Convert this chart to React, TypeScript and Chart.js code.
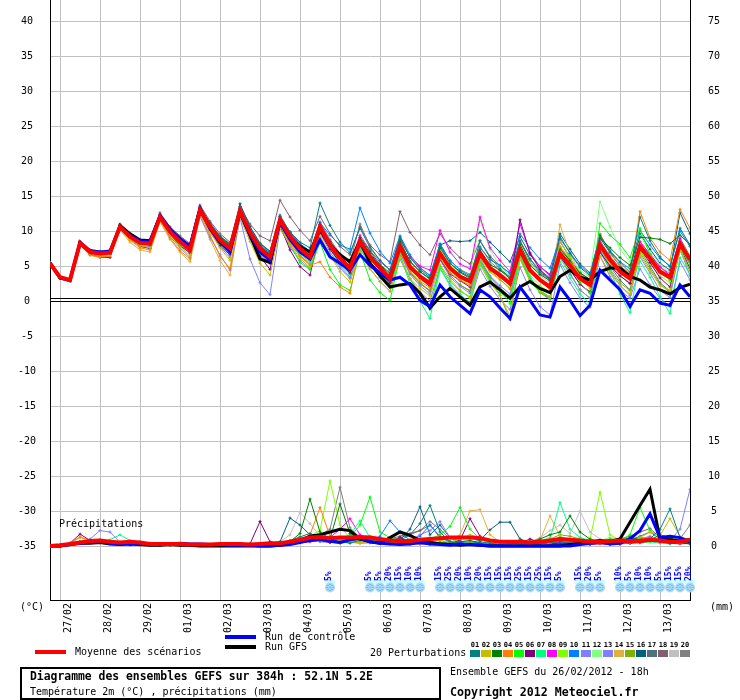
import React, { useEffect, useRef } from 'react';
import { Chart, registerables } from 'chart.js';

Chart.register(...registerables);

const MONO = "'DejaVu Sans Mono', monospace";

// x axis: one point every 6h from 26/02 18h (index 0) to +384h (index 64)
const dayTicks = [1, 5, 9, 13, 17, 21, 25, 29, 33, 37, 41, 45, 49, 53, 57, 61];
const dayLabels = ['27/02', '28/02', '29/02', '01/03', '02/03', '03/03', '04/03', '05/03',
    '06/03', '07/03', '08/03', '09/03', '10/03', '11/03', '12/03', '13/03'];
const tempTicks = [-35, -30, -25, -20, -15, -10, -5, 0, 5, 10, 15, 20, 25, 30, 35, 40];
const precipTicks = [0, 5, 10, 15, 20, 25, 30, 35, 40, 45, 50, 55, 60, 65, 70, 75];

// temperature 2m (°C)
const meanTemp = [5.4, 3.4, 3.0, 8.3, 7.0, 6.8, 6.9, 10.6, 9.2, 8.3, 8.2, 12.0, 9.9, 8.5, 7.3,
    13.0, 10.6, 8.7, 7.5, 12.9, 9.8, 7.5, 6.3, 11.6, 9.2, 7.5, 6.3,
    10.6, 8.0, 6.1, 4.7, 8.5, 6.3, 4.7, 3.2, 7.8, 4.9, 3.5, 2.5, 6.8, 4.7,
    3.5, 2.8, 6.8, 4.7, 3.7, 2.5, 7.3, 4.4, 3.0, 2.0, 6.8, 5.1, 3.2, 2.3, 8.0, 5.9, 4.2, 3.2, 7.8, 6.1, 4.2, 3.4, 8.2, 5.9];
const controlTemp = [5.4, 3.3, 3.0, 8.4, 7.2, 7.0, 7.1, 10.5, 9.4, 8.6, 8.5, 12.2, 10.3, 8.9, 7.8,
    13.2, 10.3, 8.5, 7.0, 12.6, 9.5, 7.0, 5.8, 11.2, 8.8, 7.0, 6.0,
    8.7, 6.3, 5.4, 4.4, 6.6, 5.1, 4.0, 3.0, 3.4, 2.3, 0.1, -0.8, 2.3, 0.6,
    -0.6, -1.8, 1.6, 0.6, -1.0, -2.5, 2.0, 0.1, -2.0, -2.3, 2.0, 0.1, -2.1, -0.6, 4.4, 3.0, 1.6, -0.8, 1.6, 1.1, -0.3, -0.6, 2.3, 0.6];
const gfsTemp = [5.4, 3.3, 2.9, 8.2, 7.1, 6.9, 7.0, 10.8, 9.6, 8.7, 8.6, 12.1, 10.1, 8.9, 7.8,
    13.2, 10.5, 8.4, 7.1, 12.8, 9.4, 6.0, 5.5, 11.4, 9.0, 7.8, 7.0,
    10.3, 8.0, 6.6, 5.6, 8.6, 5.4, 3.6, 2.0, 2.3, 2.5, 1.1, -1.0, 0.6, 1.8,
    0.6, -0.6, 2.0, 2.7, 1.6, 0.4, 2.0, 2.8, 1.8, 1.2, 3.5, 4.4, 3.4, 3.0, 4.2, 4.7, 4.7, 3.5, 3.0, 2.0, 1.6, 1.0, 1.9, 2.4];

const t01 = [5.4, 3.3, 2.9, 8.4, 7.1, 6.7, 6.8, 10.8, 9.4, 8.2, 8.0, 12.3, 10.2, 8.6, 7.0,
    13.4, 10.9, 8.9, 7.2, 13.2, 9.6, 7.8, 6.9, 12.0, 9.9, 8.4, 7.6,
    14.0, 10.8, 8.4, 6.9, 10.4, 7.6, 5.8, 4.4, 9.0, 6.2, 4.5, 3.4, 7.9, 5.4,
    4.1, 3.2, 8.6, 6.2, 4.6, 3.4, 8.6, 6.0, 4.1, 3.2, 9.2, 6.8, 4.8, 3.6, 9.4, 7.0, 5.5, 4.1, 12.0, 8.6, 6.3, 4.9, 10.4, 8.0];
const t02 = [5.4, 3.5, 3.1, 8.2, 6.8, 6.5, 6.6, 10.2, 8.8, 7.9, 7.6, 11.5, 9.4, 7.8, 6.5,
    12.4, 9.8, 7.6, 5.8, 11.9, 8.5, 5.4, 3.7, 10.4, 8.0, 6.1, 4.8,
    9.3, 6.6, 4.2, 2.7, 7.0, 4.6, 2.8, 1.4, 6.2, 3.2, 1.8, 0.7, 5.2, 3.1,
    1.6, 0.4, 5.2, 2.6, 0.8, -2.2, 6.0, 2.9, 1.4, 0.6, 8.5, 6.2, 3.4, 1.8, 6.4, 4.0, 2.2, 1.0, 6.6, 4.3, 2.2, 1.5, 7.2, 4.4];
const t03 = [5.4, 3.3, 3.0, 8.4, 7.0, 6.9, 7.0, 10.7, 9.3, 8.4, 8.3, 12.1, 10.0, 8.7, 7.6,
    13.1, 10.8, 9.1, 8.0, 12.6, 10.2, 8.0, 6.7, 11.5, 9.4, 7.7, 6.5,
    10.9, 8.5, 6.6, 5.3, 9.1, 7.1, 5.2, 4.0, 8.6, 5.6, 4.2, 3.1, 7.6, 5.4,
    4.2, 3.4, 7.3, 5.2, 4.4, 3.2, 8.1, 5.1, 3.8, 2.9, 7.4, 5.8, 4.0, 3.1, 9.0, 7.6, 6.2, 5.1, 9.1, 9.0, 8.8, 8.2, 9.4, 8.1];
const t04 = [5.4, 3.4, 3.1, 8.1, 6.6, 6.3, 6.4, 10.3, 8.7, 7.6, 7.3, 11.6, 9.0, 7.2, 6.0,
    12.5, 9.4, 6.4, 4.6, 12.4, 9.2, 7.3, 6.2, 11.0, 8.2, 6.4, 5.1,
    5.6, 3.4, 2.0, 1.1, 8.2, 6.0, 4.4, 3.0, 7.1, 4.2, 2.8, 1.9, 6.1, 4.0,
    3.0, 2.2, 6.2, 4.3, 3.1, 1.7, 7.6, 4.6, 2.9, 1.6, 7.7, 5.8, 3.7, 2.6, 9.6, 6.9, 5.0, 4.0, 12.8, 9.0, 7.0, 5.8, 13.1, 10.4];
const t05 = [5.4, 3.4, 3.0, 8.3, 7.1, 6.8, 7.0, 10.4, 9.0, 8.0, 8.0, 11.8, 9.7, 8.2, 7.1,
    12.7, 10.2, 8.2, 6.9, 12.4, 9.1, 6.8, 5.9, 11.0, 8.1, 5.5, 4.5,
    8.4, 4.5, 2.3, 1.5, 7.1, 3.0, 1.2, 0.1, 6.4, 3.2, 0.8, -1.2, 5.0, 2.8,
    1.4, 0.6, 5.4, 3.0, 1.6, -0.4, 6.1, 2.8, 1.3, 0.5, 8.4, 6.4, 2.6, 1.1, 11.1, 9.4, 8.1, 6.2, 10.4, 6.6, 4.3, 3.0, 7.6, 5.2];
const t06 = [5.5, 3.5, 3.1, 8.2, 6.7, 6.3, 6.2, 10.5, 9.0, 7.8, 7.5, 11.7, 9.5, 7.9, 6.9,
    12.9, 10.1, 7.9, 6.6, 12.2, 9.0, 6.4, 4.5, 10.8, 7.3, 4.9, 3.7,
    9.8, 7.4, 5.5, 4.0, 7.9, 5.6, 4.1, 2.6, 7.3, 4.6, 3.3, 2.0, 6.0, 3.9,
    2.9, 2.0, 6.5, 4.4, 3.5, 2.6, 11.6, 6.8, 4.5, 3.0, 6.3, 4.5, 2.4, 1.3, 7.0, 5.0, 3.6, 2.5, 7.4, 5.5, 3.3, 2.0, 7.8, 4.6];
const t07 = [5.4, 3.4, 2.9, 8.3, 7.0, 6.8, 6.9, 10.6, 9.1, 8.1, 8.1, 11.9, 9.8, 8.4, 7.3,
    12.6, 10.4, 8.2, 6.9, 12.1, 9.3, 7.0, 5.9, 11.3, 8.6, 6.7, 5.6,
    10.0, 7.4, 5.2, 3.8, 7.7, 5.1, 3.4, 2.0, 6.6, 2.4, 0.0, -2.5, 4.6, 2.2,
    0.9, -0.4, 5.6, 2.9, 1.2, 0.3, 6.4, 3.4, 1.4, 0.6, 5.6, 3.3, 1.0, -0.5, 7.6, 4.4, 1.0, -1.7, 5.7, 3.4, 0.6, -1.8, 6.2, 3.8];
const t08 = [5.4, 3.4, 3.0, 8.4, 7.1, 6.9, 7.0, 10.6, 9.3, 8.4, 8.2, 12.0, 10.0, 8.6, 7.4,
    13.2, 10.8, 8.8, 7.8, 12.9, 10.1, 7.8, 6.6, 11.8, 9.6, 7.9, 6.8,
    11.0, 8.6, 6.6, 5.4, 9.4, 7.2, 5.6, 4.5, 8.8, 6.3, 5.0, 4.4, 10.1, 7.0,
    5.3, 4.6, 12.0, 7.6, 5.8, 4.2, 11.0, 6.9, 4.9, 3.6, 8.6, 6.1, 3.8, 2.5, 8.4, 6.0, 4.4, 3.2, 8.5, 6.7, 4.9, 3.6, 8.9, 5.6];
const t09 = [5.4, 3.4, 3.0, 8.2, 6.9, 6.7, 6.8, 10.5, 9.1, 8.2, 8.1, 11.8, 9.7, 8.3, 7.1,
    12.8, 10.4, 8.6, 7.3, 12.6, 9.6, 7.3, 6.0, 11.4, 9.1, 7.4, 6.1,
    10.4, 7.8, 5.9, 4.5, 8.4, 6.0, 4.4, 3.0, 7.5, 4.5, 3.1, 2.2, 6.3, 4.4,
    3.1, 2.3, 6.1, 4.1, 3.0, 1.9, 6.6, 3.7, 2.2, 1.2, 6.0, 4.4, 2.8, 2.2, 7.6, 5.4, 3.6, 2.4, 7.1, 5.3, 3.6, 2.6, 7.8, 5.6];
const t10 = [5.4, 3.4, 3.1, 8.4, 7.2, 7.0, 7.1, 10.8, 9.4, 8.5, 8.4, 12.3, 10.2, 8.8, 7.6,
    13.3, 10.9, 9.1, 7.9, 13.0, 10.3, 8.1, 7.0, 12.1, 9.8, 8.2, 7.1,
    11.2, 9.4, 8.0, 7.4, 13.3, 9.7, 7.1, 5.4, 9.3, 6.6, 4.8, 3.6, 8.2, 5.8,
    4.4, 3.6, 7.6, 5.9, 5.1, 3.9, 9.6, 7.6, 6.0, 4.7, 8.9, 6.9, 5.0, 3.8, 9.4, 7.2, 5.6, 4.6, 10.1, 8.0, 6.1, 5.0, 10.0, 7.8];
const t11 = [5.4, 3.3, 2.9, 8.2, 6.9, 6.6, 6.7, 10.3, 8.8, 7.8, 7.7, 11.6, 9.2, 7.6, 6.2,
    12.1, 9.1, 6.6, 4.4, 11.9, 6.0, 2.6, 0.9, 10.4, 7.7, 5.8, 4.6,
    9.1, 6.6, 4.7, 3.2, 7.0, 4.6, 2.8, 1.4, 6.0, 3.1, 1.3, 0.0, 4.7, 2.4,
    0.9, -0.2, 4.6, 2.1, 0.2, -1.2, 4.8, 1.6, -0.8, -2.0, 5.2, 2.6, 0.4, -0.9, 6.4, 3.5, 1.5, 0.4, 4.6, 2.3, 0.4, -0.8, 5.6, 3.0];
const t12 = [5.4, 3.5, 3.1, 8.3, 7.0, 6.8, 6.9, 10.6, 9.2, 8.3, 8.2, 12.0, 9.9, 8.4, 7.2,
    12.9, 10.5, 8.6, 7.4, 12.7, 9.7, 7.4, 6.3, 11.6, 9.1, 7.3, 6.1,
    10.4, 7.8, 5.9, 4.4, 8.2, 6.0, 4.5, 3.1, 7.6, 5.0, 3.7, 2.8, 7.4, 5.2,
    4.0, 3.4, 11.6, 7.3, 5.0, 3.6, 8.0, 5.4, 3.8, 2.9, 7.8, 6.1, 4.4, 3.4, 14.2, 10.6, 7.4, 5.6, 9.3, 7.0, 5.2, 4.0, 8.7, 6.2];
const t13 = [5.3, 3.3, 2.9, 8.1, 6.8, 6.5, 6.6, 10.4, 8.9, 7.9, 7.8, 11.7, 9.5, 8.0, 6.8,
    12.5, 9.9, 7.8, 6.2, 12.2, 9.0, 6.6, 5.3, 11.1, 8.5, 6.5, 5.2,
    9.7, 7.0, 5.0, 3.4, 7.4, 5.2, 3.4, 2.0, 6.8, 3.8, 2.2, 1.0, 5.9, 3.4,
    2.1, 1.1, 5.9, 3.6, 2.2, 1.0, 6.8, 3.4, 1.3, 0.3, 6.2, 3.8, 1.6, 0.4, 7.1, 4.4, 2.2, 0.8, 6.3, 4.0, 1.5, 0.5, 7.4, 3.6];
const t14 = [5.4, 3.4, 3.0, 8.0, 6.5, 6.2, 6.3, 10.1, 8.4, 7.3, 7.0, 11.3, 8.8, 7.0, 5.6,
    12.1, 8.8, 5.8, 3.7, 12.0, 8.8, 6.5, 5.5, 11.2, 8.5, 6.5, 5.4,
    10.2, 7.7, 5.8, 4.3, 8.3, 6.1, 4.6, 3.2, 7.7, 4.7, 3.3, 2.4, 6.8, 4.6,
    3.5, 2.8, 6.3, 4.5, 3.4, 2.3, 7.2, 4.3, 2.9, 2.0, 10.9, 6.8, 4.0, 2.6, 7.2, 5.2, 3.6, 2.6, 8.2, 6.0, 4.0, 3.0, 8.6, 6.2];
const t15 = [5.4, 3.4, 3.0, 8.3, 7.0, 6.8, 6.9, 10.5, 9.1, 8.2, 8.1, 11.9, 9.8, 8.4, 7.3,
    12.9, 10.5, 8.6, 7.4, 12.8, 9.7, 7.4, 6.3, 11.5, 8.9, 7.0, 5.8,
    10.2, 7.6, 5.6, 4.1, 8.0, 5.6, 3.9, 2.5, 7.0, 4.2, 2.6, 1.5, 6.0, 3.7,
    2.3, 1.5, 5.8, 3.2, 0.8, -2.7, 6.2, 3.0, 1.2, 0.2, 6.5, 4.0, 1.6, 0.4, 7.0, 4.6, 2.6, 1.5, 6.9, 4.6, 2.4, 1.2, 7.3, 4.3];
const t16 = [5.4, 3.4, 3.0, 8.4, 7.1, 6.9, 7.1, 10.8, 9.5, 8.6, 8.5, 12.3, 10.3, 8.9, 7.8,
    13.3, 11.1, 9.2, 8.1, 13.9, 10.6, 8.2, 7.1, 12.1, 9.8, 8.0, 6.9,
    10.9, 8.4, 6.4, 5.0, 9.0, 6.8, 5.1, 3.8, 8.4, 5.7, 4.2, 3.2, 8.0, 8.6,
    8.5, 8.6, 9.8, 8.4, 7.0, 5.6, 9.2, 6.6, 4.9, 3.8, 9.6, 7.4, 5.3, 4.0, 9.0, 6.9, 5.0, 3.7, 9.6, 7.4, 5.4, 4.4, 12.6, 9.6];
const t17 = [5.4, 3.4, 3.0, 8.3, 7.0, 6.8, 6.9, 10.6, 9.2, 8.3, 8.2, 12.0, 9.9, 8.5, 7.4,
    13.0, 10.5, 8.5, 7.2, 12.7, 9.6, 7.2, 6.0, 11.5, 9.0, 7.1, 5.9,
    10.2, 7.5, 5.4, 3.9, 7.9, 5.5, 3.8, 2.4, 7.0, 4.0, 2.5, 1.4, 5.9, 3.7,
    2.3, 1.4, 6.0, 3.4, 1.9, 0.6, 6.4, 3.2, 1.5, 0.5, 6.7, 4.4, 2.4, 1.2, 7.8, 5.0, 3.0, 1.6, 7.2, 5.0, 2.6, 1.4, 8.0, 5.2];
const t18 = [5.5, 3.5, 3.1, 8.5, 7.3, 7.1, 7.3, 11.0, 9.7, 8.8, 8.7, 12.6, 10.6, 9.3, 8.2,
    13.7, 11.4, 9.6, 8.4, 13.5, 11.0, 9.3, 8.6, 14.4, 12.0, 10.1, 8.6,
    12.1, 9.6, 7.8, 6.6, 10.6, 8.0, 6.6, 5.6, 12.8, 9.8, 8.0, 6.6, 9.6, 7.6,
    6.2, 5.3, 8.6, 6.4, 5.0, 4.0, 8.4, 6.0, 4.4, 3.3, 7.8, 5.8, 4.1, 3.0, 8.6, 6.4, 4.7, 3.7, 8.4, 6.6, 4.8, 3.9, 9.0, 6.4];
const t19 = [5.4, 3.4, 3.0, 8.3, 7.1, 6.9, 7.0, 10.6, 9.3, 8.4, 8.3, 12.1, 10.0, 8.6, 7.4,
    13.1, 10.7, 8.8, 7.7, 12.9, 10.0, 7.7, 6.5, 11.7, 9.3, 7.6, 6.4,
    10.6, 8.1, 6.2, 4.8, 8.6, 6.4, 4.9, 3.5, 7.9, 5.1, 3.7, 2.7, 7.0, 4.9,
    3.7, 3.0, 7.0, 5.0, 4.0, 3.0, 7.8, 5.2, 3.6, 2.6, 7.2, 5.4, 3.6, 2.6, 7.9, 5.8, 4.3, 3.3, 7.6, 5.8, 4.0, 3.2, 8.2, 6.1];
const t20 = [5.4, 3.4, 3.0, 8.4, 7.2, 7.0, 7.1, 10.9, 9.6, 8.6, 8.5, 12.4, 10.4, 9.0, 7.9,
    13.5, 11.2, 9.3, 8.2, 13.4, 10.6, 8.3, 7.1, 12.3, 9.8, 8.0, 6.8,
    11.3, 8.8, 6.8, 5.5, 11.0, 7.8, 5.8, 4.4, 9.2, 6.2, 4.7, 3.7, 8.0, 5.8,
    4.5, 3.8, 7.8, 5.6, 4.4, 3.4, 8.6, 5.6, 4.0, 3.0, 7.6, 5.6, 3.8, 2.8, 8.3, 6.0, 4.4, 3.4, 8.0, 6.0, 4.2, 3.3, 8.6, 6.3];

// precipitation per 6h (mm), right axis
const meanPrecip = [0, 0.1, 0.3, 0.5, 0.7, 0.8, 0.6, 0.5, 0.6, 0.5, 0.3, 0.3, 0.3,
    0.3, 0.2, 0.2, 0.2, 0.3, 0.3, 0.3, 0.2, 0.3, 0.4, 0.4, 0.6, 0.9,
    1.2, 1.3, 1.1, 1.2, 1.2, 1.3, 1.2, 1.0, 0.8, 0.7, 0.7, 0.9, 1.0,
    1.1, 1.2, 1.2, 1.2, 1.1, 0.8, 0.6, 0.6, 0.6, 0.5, 0.6, 0.8, 1.0,
    0.9, 0.8, 0.6, 0.6, 0.7, 0.8, 0.7, 0.7, 0.9, 0.8, 0.6, 0.6, 0.9];
const controlPrecip = [0, 0, 0.2, 0.4, 0.5, 0.6, 0.4, 0.3, 0.4, 0.3, 0.2, 0.2, 0.3,
    0.4, 0.3, 0.3, 0.2, 0.2, 0.1, 0.1, 0.1, 0, 0, 0.1, 0.2, 0.5,
    0.8, 1.0, 0.7, 0.5, 0.9, 1.1, 0.6, 0.4, 0.3, 0.2, 0.3, 0.5, 0.3,
    0.2, 0.1, 0.3, 0.2, 0.1, 0, 0, 0, 0, 0, 0, 0, 0,
    0, 0.2, 0.4, 0.6, 0.3, 0.4, 1.0, 2.2, 4.6, 1.2, 1.4, 1.2, 0.6];
const gfsPrecip = [0, 0, 0.2, 0.4, 0.4, 0.5, 0.3, 0.2, 0.3, 0.2, 0.1, 0.1, 0.2,
    0.1, 0.1, 0, 0, 0, 0, 0, 0, 0, 0, 0.1, 0.3, 0.8,
    1.4, 1.6, 2.0, 2.4, 2.2, 1.0, 0.6, 0.4, 1.2, 2.0, 1.5, 0.8, 0.5,
    0.3, 0.2, 0.1, 0.2, 0.1, 0, 0, 0, 0, 0, 0, 0, 0,
    0.2, 0.4, 0.6, 0.8, 0.6, 1.0, 3.4, 5.8, 8.1, 1.0, 0.9, 0.7, 0.9];

const p01 = [0, 0, 0.3, 0.6, 0.8, 0.9, 0.5, 0.3, 0.4, 0.3, 0.2, 0.1, 0.2,
    0.2, 0.1, 0.1, 0.2, 0.3, 0.2, 0.1, 0.2, 0.3, 0.2, 0.4, 0.8, 1.3,
    1.8, 1.2, 0.9, 0.6, 0.4, 0.8, 1.0, 0.7, 0.6, 0.8, 1.6, 3.2, 5.8,
    2.0, 0.6, 0.4, 0.3, 0.6, 0.4, 0.2, 0.1, 0.1, 0.2, 0.3, 0.5, 0.6,
    0.4, 0.2, 0.3, 0.5, 0.4, 0.3, 0.6, 0.8, 1.0, 2.4, 5.3, 1.2, 0.6];
const p02 = [0, 0, 0.2, 0.5, 0.7, 0.8, 0.6, 0.4, 0.3, 0.2, 0.1, 0.1, 0.1,
    0.2, 0.1, 0, 0, 0.1, 0.2, 0.2, 0.1, 0.1, 0.2, 0.3, 0.5, 0.9,
    1.2, 1.4, 1.0, 0.8, 0.6, 0.4, 0.8, 0.6, 0.4, 0.3, 0.5, 0.9, 1.2,
    0.8, 0.5, 1.0, 1.6, 1.2, 0.6, 0.3, 0.2, 0.2, 0.1, 0.1, 0.4, 0.8,
    1.0, 0.6, 0.3, 0.4, 0.6, 0.3, 0.5, 1.2, 2.0, 1.5, 3.9, 1.4, 0.8];
const p03 = [0, 0.1, 0.3, 0.6, 0.7, 0.8, 0.6, 0.5, 0.6, 0.4, 0.3, 0.2, 0.2,
    0.2, 0.1, 0.1, 0.1, 0.2, 0.2, 0.2, 0.3, 0.2, 0.2, 0.3, 0.6, 1.8,
    6.7, 2.0, 1.0, 6.0, 1.8, 1.0, 0.6, 0.4, 0.3, 0.3, 0.5, 0.8, 0.6,
    0.5, 0.4, 0.6, 0.8, 0.4, 0.2, 0.2, 0.3, 0.3, 0.6, 1.0, 1.6, 2.0,
    4.3, 2.0, 1.0, 0.6, 0.4, 0.8, 1.2, 1.0, 0.8, 1.6, 1.2, 0.6, 0.4];
const p04 = [0, 0.1, 0.4, 1.3, 0.8, 0.6, 0.5, 0.4, 0.3, 0.2, 0.1, 0.1, 0.1,
    0.1, 0.1, 0.1, 0.1, 0.1, 0.2, 0.2, 0.2, 0.1, 0.1, 0.2, 0.4, 0.8,
    1.6, 5.5, 1.4, 0.8, 0.6, 0.4, 0.5, 0.8, 0.6, 0.4, 0.3, 0.4, 0.3,
    0.2, 0.2, 0.3, 0.4, 0.2, 0.1, 0.1, 0.1, 0.2, 0.3, 0.6, 1.0, 0.8,
    0.6, 0.5, 0.4, 0.6, 0.8, 0.6, 0.8, 1.0, 1.2, 0.9, 0.6, 0.4, 0.8];
const p05 = [0, 0, 0.2, 0.5, 0.6, 0.7, 0.5, 0.4, 0.5, 0.6, 0.4, 0.2, 0.2,
    0.1, 0.1, 0.1, 0.2, 0.2, 0.1, 0.1, 0.1, 0.1, 0.2, 0.3, 0.5, 0.8,
    1.2, 0.9, 1.4, 0.8, 1.2, 3.0, 7.0, 2.0, 1.2, 0.8, 0.6, 0.4, 1.0,
    1.6, 2.8, 5.5, 2.4, 1.0, 0.4, 0.3, 0.2, 0.1, 0.2, 0.4, 0.8, 1.2,
    0.8, 0.6, 0.4, 0.6, 1.0, 0.8, 1.6, 5.5, 2.2, 1.0, 0.6, 0.4, 0.6];
const p06 = [0, 0.1, 0.4, 1.7, 0.8, 0.5, 0.4, 0.3, 0.2, 0.2, 0.1, 0.1, 0.1,
    0.1, 0.1, 0.1, 0.1, 0.1, 0.1, 0.2, 0.3, 3.5, 0.6, 0.3, 0.4, 0.5,
    0.6, 0.8, 0.5, 0.6, 0.8, 1.0, 0.6, 0.4, 0.5, 1.2, 0.6, 0.4, 0.3,
    0.3, 0.4, 0.8, 3.9, 1.4, 0.5, 0.3, 0.3, 0.4, 1.0, 0.5, 0.3, 0.4,
    0.3, 0.2, 0.2, 0.3, 0.2, 0.3, 0.4, 0.5, 0.8, 0.6, 0.4, 0.3, 0.4];
const p07 = [0, 0, 0.2, 0.4, 0.5, 0.6, 0.9, 1.6, 0.8, 0.4, 0.3, 0.2, 0.2,
    0.2, 0.1, 0.1, 0.2, 0.1, 0.1, 0.1, 0.2, 0.2, 0.3, 0.2, 0.4, 0.6,
    0.8, 1.0, 1.2, 1.0, 1.6, 3.6, 1.2, 0.6, 0.4, 0.3, 0.5, 0.4, 0.3,
    0.3, 0.2, 0.4, 0.6, 0.4, 0.3, 0.2, 0.2, 0.3, 0.4, 0.6, 1.0, 6.2,
    2.4, 1.2, 0.8, 0.4, 0.6, 0.8, 0.5, 0.4, 0.6, 0.4, 0.3, 0.5, 0.6];
const p08 = [0, 0.1, 0.3, 0.5, 0.6, 0.5, 0.4, 0.3, 0.2, 0.2, 0.1, 0.1, 0.1,
    0.1, 0.1, 0.1, 0.1, 0.2, 0.2, 0.2, 0.1, 0.1, 0.2, 0.2, 0.3, 0.6,
    1.0, 0.8, 1.2, 2.4, 3.9, 1.6, 0.8, 0.5, 0.4, 0.6, 0.4, 0.3, 0.3,
    0.4, 0.3, 0.5, 0.6, 0.4, 0.3, 0.2, 0.3, 0.2, 0.2, 0.3, 0.4, 0.6,
    0.5, 0.4, 0.3, 0.4, 0.6, 0.8, 0.6, 0.8, 1.2, 0.7, 0.4, 0.5, 0.4];
const p09 = [0, 0, 0.2, 0.5, 0.6, 0.6, 0.5, 0.4, 0.3, 0.3, 0.2, 0.1, 0.1,
    0.1, 0.1, 0.1, 0.1, 0.1, 0.2, 0.2, 0.1, 0.1, 0.2, 0.3, 0.4, 0.8,
    1.4, 2.2, 9.3, 3.0, 1.0, 0.6, 0.5, 0.4, 0.3, 0.4, 0.6, 0.4, 0.3,
    0.3, 0.2, 0.4, 0.3, 0.2, 0.2, 0.1, 0.1, 0.2, 0.3, 0.5, 0.8, 1.0,
    0.6, 0.6, 1.0, 7.7, 1.6, 0.8, 0.6, 0.5, 0.6, 0.8, 0.5, 0.4, 0.6];
const p10 = [0, 0, 0.2, 0.4, 0.5, 0.6, 0.5, 0.4, 0.3, 0.2, 0.2, 0.1, 0.1,
    0.1, 0.1, 0.2, 0.2, 0.2, 0.1, 0.1, 0.1, 0.1, 0.1, 0.2, 0.4, 0.7,
    1.0, 0.8, 0.6, 0.9, 1.2, 0.8, 0.6, 1.4, 3.6, 2.0, 0.8, 1.4, 3.0,
    1.2, 0.6, 0.4, 0.3, 0.3, 0.2, 0.2, 0.1, 0.1, 0.2, 0.3, 0.5, 0.8,
    0.6, 0.4, 0.4, 0.5, 0.6, 0.6, 0.8, 1.0, 1.2, 0.8, 0.6, 0.4, 0.5];
const p11 = [0, 0, 0.2, 0.4, 1.0, 2.2, 2.0, 0.5, 0.4, 0.3, 0.2, 0.2, 0.2,
    0.1, 0.1, 0.1, 0.1, 0.1, 0.1, 0.2, 0.2, 0.2, 0.2, 0.3, 0.4, 0.6,
    0.8, 0.6, 0.5, 0.6, 0.8, 1.0, 0.8, 0.6, 0.5, 0.6, 0.8, 1.6, 2.2,
    3.5, 1.2, 0.6, 0.4, 0.3, 0.3, 0.2, 0.2, 0.2, 0.1, 0.2, 0.3, 0.5,
    0.4, 0.3, 0.3, 0.4, 0.5, 0.6, 0.8, 1.0, 1.4, 0.8, 0.6, 0.5, 0.6];
const p12 = [0, 0, 0.2, 0.4, 0.5, 0.5, 0.4, 0.3, 0.3, 0.2, 0.2, 0.1, 0.1,
    0.1, 0.1, 0.1, 0.1, 0.1, 0.1, 0.1, 0.1, 0.1, 0.2, 0.3, 0.5, 0.8,
    1.0, 1.2, 0.9, 0.8, 0.6, 0.8, 1.0, 0.6, 0.5, 0.4, 0.3, 0.4, 0.6,
    0.8, 1.0, 0.6, 0.4, 0.3, 0.2, 0.2, 0.3, 0.4, 0.6, 0.8, 1.2, 1.0,
    0.8, 0.6, 0.5, 0.8, 1.2, 1.0, 0.8, 0.6, 0.6, 0.5, 0.4, 0.6, 0.8];
const p13 = [0, 0, 0.2, 0.4, 0.5, 0.6, 0.5, 0.4, 0.3, 0.2, 0.2, 0.1, 0.1,
    0.1, 0.1, 0.1, 0.1, 0.1, 0.2, 0.2, 0.1, 0.1, 0.1, 0.2, 0.4, 0.6,
    0.8, 0.7, 0.6, 0.5, 0.6, 0.8, 0.6, 0.5, 0.4, 0.4, 0.5, 0.6, 0.4,
    0.3, 0.3, 0.4, 0.3, 0.2, 0.2, 0.1, 0.1, 0.1, 0.2, 0.3, 0.4, 0.5,
    0.4, 0.3, 0.4, 0.5, 0.6, 0.6, 0.8, 1.0, 0.8, 0.6, 0.8, 2.4, 8.1];
const p14 = [0, 0.1, 0.4, 1.2, 0.8, 0.6, 0.5, 0.4, 0.3, 0.2, 0.1, 0.1, 0.1,
    0.1, 0.1, 0.1, 0.1, 0.1, 0.1, 0.2, 0.2, 0.2, 0.2, 0.3, 0.5, 0.8,
    1.0, 0.8, 0.6, 0.7, 0.9, 0.8, 0.6, 0.5, 0.6, 0.8, 1.0, 0.8, 0.6,
    0.5, 0.8, 1.6, 5.0, 5.2, 1.6, 0.6, 0.4, 0.3, 0.4, 0.8, 4.3, 1.4,
    0.8, 0.5, 0.4, 0.5, 0.6, 0.6, 0.5, 0.6, 0.8, 0.6, 0.5, 0.4, 0.5];
const p15 = [0, 0, 0.2, 0.4, 0.5, 0.6, 0.5, 0.4, 0.3, 0.2, 0.2, 0.1, 0.1,
    0.1, 0.1, 0.1, 0.1, 0.1, 0.1, 0.1, 0.2, 0.2, 0.2, 0.3, 0.5, 0.7,
    0.9, 1.0, 0.8, 0.6, 0.8, 1.0, 1.4, 0.8, 0.5, 0.4, 0.3, 0.3, 0.4,
    0.5, 0.6, 0.4, 0.3, 0.2, 0.2, 0.1, 0.1, 0.2, 0.3, 0.6, 1.0, 1.6,
    1.4, 1.0, 0.6, 0.5, 0.4, 0.6, 0.8, 1.2, 1.0, 0.8, 1.4, 0.8, 0.6];
const p16 = [0, 0, 0.2, 0.4, 0.5, 0.5, 0.4, 0.3, 0.3, 0.2, 0.2, 0.1, 0.1,
    0.1, 0.1, 0.1, 0.1, 0.2, 0.2, 0.2, 0.2, 0.3, 0.4, 0.6, 4.0, 3.0,
    1.6, 0.8, 0.5, 0.4, 0.6, 0.8, 0.6, 0.5, 0.6, 0.8, 2.4, 5.6, 1.6,
    3.0, 1.2, 0.6, 0.5, 0.8, 2.3, 3.4, 3.4, 1.0, 0.5, 0.3, 0.2, 0.2,
    0.2, 0.3, 0.4, 0.5, 0.6, 0.5, 0.4, 0.6, 0.8, 0.6, 0.5, 0.4, 0.3];
const p17 = [0, 0, 0.2, 0.4, 0.5, 0.5, 0.4, 0.3, 0.2, 0.2, 0.1, 0.1, 0.1,
    0.1, 0.1, 0.1, 0.1, 0.1, 0.2, 0.2, 0.2, 0.2, 0.2, 0.3, 0.4, 0.6,
    0.8, 0.9, 0.7, 0.6, 0.8, 1.0, 0.8, 0.6, 0.5, 0.6, 0.8, 0.6, 0.5,
    0.4, 0.3, 0.4, 0.5, 0.3, 0.2, 0.2, 0.2, 0.3, 0.4, 0.6, 0.8, 0.6,
    0.5, 0.4, 0.5, 0.6, 0.8, 0.6, 0.8, 1.4, 2.0, 1.0, 0.6, 0.5, 0.6];
const p18 = [0, 0, 0.2, 0.4, 0.5, 0.6, 0.5, 0.4, 0.3, 0.2, 0.2, 0.1, 0.1,
    0.1, 0.1, 0.1, 0.1, 0.1, 0.1, 0.2, 0.2, 0.2, 0.3, 0.4, 0.6, 0.8,
    1.0, 0.8, 0.6, 0.8, 1.0, 0.8, 0.6, 0.8, 1.0, 1.4, 1.8, 2.2, 3.0,
    1.4, 0.6, 0.4, 0.3, 0.3, 0.2, 0.2, 0.3, 0.4, 0.6, 0.8, 0.6, 0.5,
    0.4, 0.4, 0.5, 0.6, 0.8, 1.0, 1.4, 2.0, 2.5, 1.2, 0.8, 0.6, 0.5];
const p19 = [0, 0, 0.2, 0.4, 0.5, 0.6, 0.5, 0.4, 0.3, 0.2, 0.2, 0.1, 0.1,
    0.1, 0.1, 0.1, 0.1, 0.1, 0.1, 0.1, 0.2, 0.2, 0.3, 0.6, 1.6, 4.8,
    3.2, 1.4, 0.8, 0.6, 0.5, 0.4, 0.4, 0.5, 0.6, 0.4, 0.3, 0.3, 0.4,
    0.3, 0.3, 0.4, 0.5, 0.4, 0.3, 0.2, 0.2, 0.3, 0.6, 1.2, 2.2, 3.0,
    1.8, 5.0, 2.0, 1.0, 0.6, 0.5, 0.6, 0.8, 1.0, 0.8, 0.6, 0.5, 0.6];
const p20 = [0, 0, 0.2, 0.4, 0.5, 0.6, 0.5, 0.4, 0.3, 0.2, 0.2, 0.1, 0.1,
    0.1, 0.1, 0.1, 0.1, 0.1, 0.1, 0.2, 0.2, 0.2, 0.2, 0.3, 0.5, 0.8,
    1.2, 1.6, 2.4, 8.4, 2.6, 1.2, 0.8, 0.6, 0.8, 1.2, 1.6, 2.2, 3.5,
    2.4, 1.0, 0.6, 0.4, 0.3, 0.3, 0.2, 0.2, 0.3, 0.4, 0.6, 0.8, 0.6,
    0.5, 0.4, 0.4, 0.5, 0.6, 0.8, 1.0, 1.2, 1.0, 0.8, 0.6, 1.0, 3.0];

const pertColors = ['#008080', '#c0c000', '#008000', '#ff8000', '#00ff00', '#800080', '#00ff80',
    '#ff00ff', '#80ff00', '#0080ff', '#8080ff', '#80ff80', '#8080ff', '#e0b040', '#80b000',
    '#006080', '#507080', '#806070', '#c0c0c0', '#808080'];
const pertTempSeries = [t01, t02, t03, t04, t05, t06, t07, t08, t09, t10, t11, t12, t13, t14, t15, t16, t17, t18, t19, t20];
const pertPrecipSeries = [p01, p02, p03, p04, p05, p06, p07, p08, p09, p10, p11, p12, p13, p14, p15, p16, p17, p18, p19, p20];

// snow probability (index of the 6h step, percent of members)
const snowSteps = [28, 32, 33, 34, 35, 36, 37, 39, 40, 41, 42, 43, 44, 45, 46, 47, 48, 49, 50, 51,
    53, 54, 55, 57, 58, 59, 60, 61, 62, 63, 64];
const snowPercent = [5, 5, 5, 20, 15, 10, 10, 15, 25, 20, 10, 20, 15, 15, 15, 25, 15, 25, 15, 5,
    15, 20, 5, 10, 5, 10, 10, 5, 15, 15, 20];

const toPoints = (arr: number[]) => arr.map((v, i) => ({ x: i, y: v }));

const fixAxis = (width: number | null, height: number | null) => (scale: any) => {
    if (width !== null) scale.width = width;
    if (height !== null) scale.height = height;
    scale.paddingTop = 0;
    scale.paddingBottom = 0;
    scale.paddingLeft = 0;
    scale.paddingRight = 0;
};

const drawSnowflake = (ctx: CanvasRenderingContext2D, cx: number, cy: number) => {
    ctx.fillStyle = '#a6daf6';
    ctx.beginPath();
    ctx.arc(cx, cy, 5, 0, Math.PI * 2);
    ctx.fill();
    ctx.fillStyle = '#4a9fe6';
    const dots = [[0, 0], [-3, 0], [3, 0], [0, -3], [0, 3], [-2, -2], [2, 2], [-2, 2], [2, -2]];
    dots.forEach(([dx, dy]) => ctx.fillRect(cx + dx - 0.5, cy + dy - 0.5, 1, 1));
};

const overlayPlugin = {
    id: 'meteocielOverlay',
    beforeDatasetsDraw(chart: any) {
        const { ctx, chartArea, scales } = chart;
        const y0 = Math.round(scales.y.getPixelForValue(0));
        ctx.save();
        ctx.strokeStyle = '#000';
        ctx.lineWidth = 1;
        ctx.beginPath();
        ctx.moveTo(chartArea.left, y0 - 2.5);
        ctx.lineTo(chartArea.right, y0 - 2.5);
        ctx.moveTo(chartArea.left, y0 + 0.5);
        ctx.lineTo(chartArea.right, y0 + 0.5);
        ctx.stroke();
        ctx.fillStyle = '#000';
        ctx.font = `10px ${MONO}`;
        ctx.textBaseline = 'middle';
        ctx.fillText('Précipitations', chartArea.left + 9, scales.y.getPixelForValue(-35) - 22);
        ctx.restore();
    },
    afterDraw(chart: any) {
        const { ctx, chartArea, scales } = chart;
        const bottom = chartArea.bottom;
        ctx.save();

        // snow band + symbols + percentages
        snowSteps.forEach((step) => {
            const px = scales.x.getPixelForValue(step);
            ctx.fillStyle = '#ccffff';
            ctx.fillRect(px - 5, bottom - 20, 10, 4);
        });
        snowSteps.forEach((step) => {
            drawSnowflake(ctx, scales.x.getPixelForValue(step), bottom - 12.5);
        });
        ctx.fillStyle = '#0000ff';
        ctx.font = `bold 8px ${MONO}`;
        ctx.textAlign = 'left';
        ctx.textBaseline = 'middle';
        snowSteps.forEach((step, i) => {
            const px = scales.x.getPixelForValue(step);
            ctx.save();
            ctx.translate(px - 1, bottom - 19);
            ctx.rotate(-Math.PI / 2);
            ctx.fillText(`${snowPercent[i]}%`, 0, 0);
            ctx.restore();
        });

        // units
        ctx.fillStyle = '#000';
        ctx.font = `10px ${MONO}`;
        ctx.textBaseline = 'middle';
        ctx.fillText('(°C)', 20, 607);
        ctx.fillText('(mm)', 710, 607);

        // legend lines
        ctx.fillStyle = '#0000ff';
        ctx.fillRect(225, 635, 31, 4);
        ctx.fillStyle = '#000';
        ctx.fillRect(225, 645, 31, 4);
        ctx.fillStyle = '#ff0000';
        ctx.fillRect(35, 650, 31, 4);
        ctx.fillStyle = '#000';
        ctx.fillText('Run de contrôle', 265, 637);
        ctx.fillText('Run GFS', 265, 647);
        ctx.fillText('Moyenne des scénarios', 75, 652);
        ctx.fillText('20 Perturbations', 370, 653);

        // perturbation colour boxes
        ctx.font = `bold 7px ${MONO}`;
        ctx.textAlign = 'center';
        pertColors.forEach((c, i) => {
            const bx = Math.round(470 + i * 11.05);
            ctx.fillStyle = c;
            ctx.fillRect(bx, 650, 10, 7);
            ctx.fillStyle = '#000';
            ctx.fillText(String(i + 1).padStart(2, '0'), bx + 5, 645);
        });
        ctx.textAlign = 'left';

        // title box
        ctx.strokeStyle = '#000';
        ctx.lineWidth = 2;
        ctx.strokeRect(21, 668, 419, 31);
        ctx.fillStyle = '#000';
        ctx.font = `bold 11.4px ${MONO}`;
        ctx.fillText('Diagramme des ensembles GEFS sur 384h : 52.1N 5.2E', 30, 677);
        ctx.font = `10px ${MONO}`;
        ctx.fillText('Température 2m (°C) , précipitations (mm)', 30, 692.5);
        ctx.fillText('Ensemble GEFS du 26/02/2012 - 18h', 450, 672);
        ctx.font = `bold 11.6px ${MONO}`;
        ctx.fillText('Copyright 2012 Meteociel.fr', 450, 692.5);
        ctx.restore();
    },
};

const EnsembleChart: React.FC = () => {
    const canvasRef = useRef<HTMLCanvasElement>(null);
    const chartRef = useRef<Chart | null>(null);

    useEffect(() => {
        if (!canvasRef.current) return;
        const ctx = canvasRef.current.getContext('2d');
        if (!ctx) return;

        const thin = (data: number[], color: string, axis: string) => ({
            data: toPoints(data),
            borderColor: color,
            borderWidth: 1,
            pointStyle: 'cross',
            pointRadius: 1.5,
            pointBorderColor: color,
            pointBorderWidth: 1,
            yAxisID: axis,
        });
        const thick = (data: number[], color: string, width: number, axis: string) => ({
            data: toPoints(data),
            borderColor: color,
            borderWidth: width,
            pointRadius: 0,
            yAxisID: axis,
        });

        const datasets: any[] = [
            thick(meanTemp, '#ff0000', 4, 'y'),
            thick(meanPrecip, '#ff0000', 4, 'y2'),
            thick(controlTemp, '#0000ff', 3, 'y'),
            thick(controlPrecip, '#0000ff', 3, 'y2'),
            thick(gfsTemp, '#000000', 3, 'y'),
            thick(gfsPrecip, '#000000', 3, 'y2'),
            ...pertTempSeries.map((s, i) => thin(s, pertColors[i], 'y')),
            ...pertPrecipSeries.map((s, i) => thin(s, pertColors[i], 'y2')),
        ];

        const tickFont = { family: MONO, size: 10 };

        chartRef.current = new Chart(ctx, {
            type: 'line',
            data: { datasets },
            plugins: [overlayPlugin],
            options: {
                responsive: false,
                animation: false,
                events: [],
                layout: { padding: 0, autoPadding: false },
                elements: { line: { tension: 0, fill: false } },
                plugins: { legend: { display: false }, tooltip: { enabled: false } },
                scales: {
                    x: {
                        type: 'linear',
                        min: 0,
                        max: 64,
                        afterBuildTicks: (s: any) => { s.ticks = dayTicks.map((v) => ({ value: v })); },
                        afterFit: fixAxis(null, 100),
                        grid: { color: '#c0c0c0', drawTicks: false },
                        border: { display: true, color: '#000', width: 1 },
                        ticks: {
                            autoSkip: false,
                            minRotation: 90,
                            maxRotation: 90,
                            padding: 3,
                            labelOffset: 8,
                            color: '#000',
                            font: tickFont,
                            callback: (_v: any, i: number) => dayLabels[i],
                        },
                    },
                    y: {
                        position: 'left',
                        min: -42.714,
                        max: 43,
                        afterBuildTicks: (s: any) => { s.ticks = tempTicks.map((v) => ({ value: v })); },
                        afterFit: fixAxis(50, null),
                        grid: { color: '#c0c0c0', drawTicks: false },
                        border: { display: true, color: '#000', width: 1 },
                        ticks: { padding: 14, crossAlign: 'center', color: '#000', font: tickFont },
                    },
                    y2: {
                        position: 'right',
                        min: -7.714,
                        max: 78,
                        afterBuildTicks: (s: any) => { s.ticks = precipTicks.map((v) => ({ value: v })); },
                        afterFit: fixAxis(50, null),
                        grid: { color: 'rgba(0,0,0,0)', drawTicks: false },
                        border: { display: true, color: '#000', width: 1 },
                        ticks: { padding: 18, crossAlign: 'center', color: '#000', font: tickFont },
                    },
                },
            } as any,
        });

        return () => {
            chartRef.current?.destroy();
            chartRef.current = null;
        };
    }, []);

    return (
        <div style={{ position: 'absolute', left: 0, top: 0, width: 740, height: 700, background: '#fff' }}>
            <canvas ref={canvasRef} width={740} height={700}></canvas>
        </div>
    );
};

export default function App() {
    return <EnsembleChart />;
}
